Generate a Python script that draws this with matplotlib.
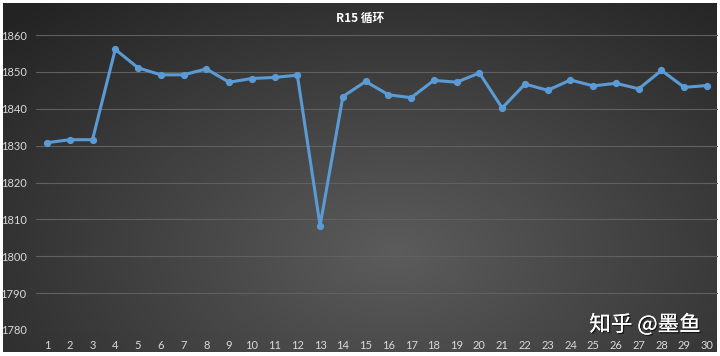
import numpy as np
import matplotlib.pyplot as plt
import matplotlib.patheffects as pe

# cycle index and score
runs = list(range(1, 31))
scores = [1830.8, 1831.6, 1831.6, 1856.1, 1851.1, 1849.2, 1849.2, 1850.8, 1847.2, 1848.2,
          1848.5, 1849.1, 1808.3, 1843.3, 1847.4, 1843.8, 1843.0, 1847.7, 1847.2, 1849.7,
          1840.2, 1846.7, 1845.0, 1847.8, 1846.2, 1846.9, 1845.4, 1850.4, 1845.8, 1846.3]
yticks = [1780, 1790, 1800, 1810, 1820, 1830, 1840, 1850, 1860]

W, H = 720, 356
fig = plt.figure(figsize=(W / 100, H / 100), dpi=100, facecolor='white')

# dark radial gradient behind the chart
bg = fig.add_axes([3 / W, 1 - 352 / H, 714 / W, 349 / H])
gx, gy = np.meshgrid(np.linspace(0, 1, 400), np.linspace(0, 1, 200))
r = np.sqrt(((gx - 0.55) / 0.75) ** 2 + ((gy - 0.72) / 0.95) ** 2)
r = np.clip(r, 0, 1)
shade = 0.36 - 0.22 * r
bg.imshow(np.dstack([shade, shade, shade]), aspect='auto', extent=[0, 1, 0, 1], origin='upper')
bg.axis('off')

ax = fig.add_axes([35.6 / W, 1 - 330 / H, (718.4 - 35.6) / W, 295 / H])
ax.set_facecolor('none')
ax.plot(runs, scores, color='#5b9bd5', lw=2.2, marker='o', ms=4.2,
        markerfacecolor='#5b9bd5', markeredgecolor='#5b9bd5', zorder=3, clip_on=False)
ax.set_xlim(0.5, 30.5)
ax.set_ylim(1780, 1860)
ax.set_yticks(yticks)
ax.set_xticks(runs)
ax.grid(axis='y', color='#606060', lw=0.8)
ax.tick_params(length=0, colors='#d9d9d9', labelsize=8)
ax.tick_params(axis='y', pad=6.5)
ax.tick_params(axis='x', pad=7.5)
for lab in ax.get_xticklabels() + ax.get_yticklabels():
    lab.set_family('Lato')
for s in ax.spines.values():
    s.set_visible(False)

fig.text(0.5, 1 - 18 / H, 'R15 循环', ha='center', va='center', color='white',
         fontsize=8.5, fontweight='bold', family=['Noto Sans CJK SC', 'DejaVu Sans'])

fig.text(645 / W, 1 - 325 / H, '知乎 @墨鱼', ha='center', va='center', color='white',
         fontsize=15.5, family=['Noto Sans CJK SC', 'DejaVu Sans'],
         path_effects=[pe.withSimplePatchShadow(offset=(1, -1), shadow_rgbFace='black', alpha=0.6),
                       pe.Normal()])

fig.savefig('out.png', dpi=100, facecolor='white')
